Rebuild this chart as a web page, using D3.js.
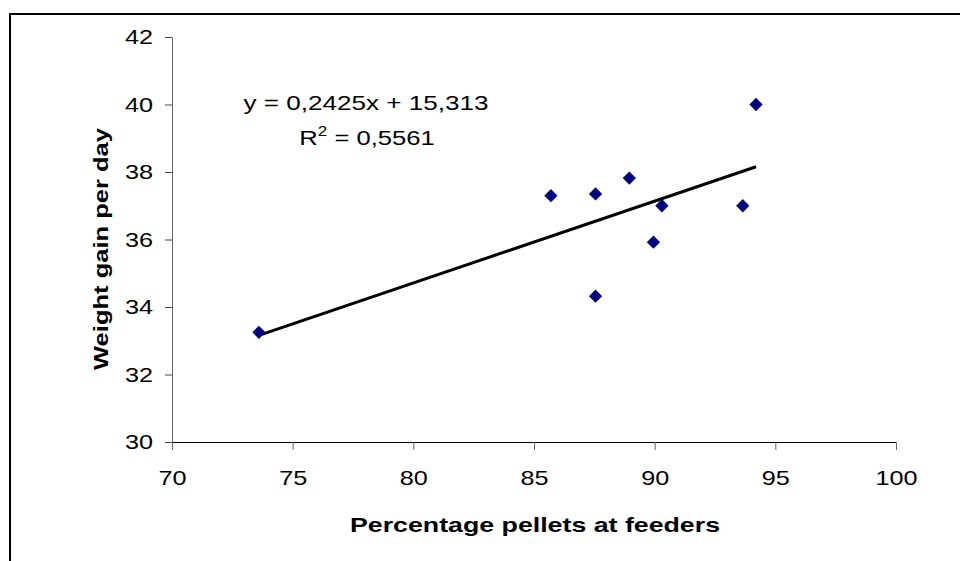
<!DOCTYPE html>
<html>
<head>
<meta charset="utf-8">
<script src="https://cdn.jsdelivr.net/npm/d3@7"></script>
<style>
  body { margin: 0; background: #fff; }
  svg { display: block; font-family: "Liberation Sans", Arial, sans-serif; }
</style>
</head>
<body>
<div id="chart"></div>
<script>
// values
const pellets = [73.6, 85.7, 87.55, 88.95, 90.3, 89.95, 87.55, 93.65, 94.2];
const gain = [33.25, 37.3, 37.35, 37.82, 37.0, 35.92, 34.32, 37.0, 40.0];
const xTicks = [70, 75, 80, 85, 90, 95, 100];
const yTicks = [30, 32, 34, 36, 38, 40, 42];
const slope = 0.2425, intercept = 15.313;
const equationLabel = "y = 0,2425x + 15,313";
const r2Label = "0,5561";

const width = 960, height = 561;
const margin = { top: 37, right: 64, bottom: 119, left: 172 };

const svg = d3.select("#chart").append("svg")
  .attr("width", width)
  .attr("height", height);

// the old excel look: glyphs drawn a bit wider than the font
function widen(sel, k) {
  sel.each(function() {
    const len = this.getComputedTextLength();
    d3.select(this).attr("textLength", len * k).attr("lengthAdjust", "spacingAndGlyphs");
  });
}

// outer chart frame (only left and top edges visible)
svg.append("rect")
  .attr("x", 10).attr("y", 14)
  .attr("width", 1000).attr("height", 600)
  .style("fill", "none")
  .style("stroke", "#000")
  .style("stroke-width", "2px");

const x = d3.scaleLinear().domain([70, 100]).range([margin.left, width - margin.right]);
const y = d3.scaleLinear().domain([30, 42]).range([height - margin.bottom, margin.top]);

const xAxis = svg.append("g")
  .attr("transform", `translate(0,${y(30)})`)
  .call(d3.axisBottom(x).tickValues(xTicks).tickSize(8).tickPadding(20).tickSizeOuter(0));
xAxis.select(".domain").style("stroke", "#000");
xAxis.selectAll(".tick line").style("stroke", "#666");
xAxis.selectAll("text").style("font-size", "21px").style("fill", "#000")
  .attr("dy", "0.71em")
  .call(widen, 1.2);

const yAxis = svg.append("g")
  .attr("transform", `translate(${x(70)},0)`)
  .call(d3.axisLeft(y).tickValues(yTicks).tickSize(7).tickPadding(12).tickSizeOuter(0));
yAxis.select(".domain").style("stroke", "#666");
yAxis.selectAll(".tick line").style("stroke", "#444");
yAxis.selectAll("text").style("font-size", "21px").style("fill", "#000")
  .call(widen, 1.2);

// trend line over the span of the data
const xExt = d3.extent(pellets);
svg.append("line")
  .attr("x1", x(xExt[0])).attr("y1", y(slope * xExt[0] + intercept))
  .attr("x2", x(xExt[1])).attr("y2", y(slope * xExt[1] + intercept))
  .style("stroke", "#000")
  .style("stroke-width", "3px");

// diamond markers
svg.selectAll(".pt")
  .data(pellets.map((p, i) => [p, gain[i]]))
  .enter()
  .append("path")
  .attr("class", "pt")
  .attr("d", d3.symbol().type(d3.symbolSquare).size(88))
  .attr("transform", d => `translate(${x(d[0])},${y(d[1])}) rotate(45)`)
  .style("fill", "#000080");

// regression equation
svg.append("text")
  .attr("x", 366).attr("y", 110)
  .attr("text-anchor", "middle")
  .attr("textLength", 245)
  .attr("lengthAdjust", "spacingAndGlyphs")
  .style("font-size", "21px")
  .text(equationLabel);

const r2 = svg.append("g")
  .attr("transform", "translate(367,145) scale(1.22,1)")
  .append("text")
  .attr("text-anchor", "middle")
  .style("font-size", "21px");
r2.append("tspan").text("R");
r2.append("tspan").attr("dy", -9).style("font-size", "14px").text("2");
r2.append("tspan").attr("dy", 9).text(" = " + r2Label);

// axis titles
svg.append("text")
  .attr("x", 535).attr("y", 532)
  .attr("text-anchor", "middle")
  .attr("textLength", 370)
  .attr("lengthAdjust", "spacingAndGlyphs")
  .style("font-size", "21px")
  .style("font-weight", "bold")
  .text("Percentage pellets at feeders");

svg.append("text")
  .attr("transform", "translate(108,249) rotate(-90)")
  .attr("text-anchor", "middle")
  .attr("textLength", 242)
  .attr("lengthAdjust", "spacingAndGlyphs")
  .style("font-size", "21px")
  .style("font-weight", "bold")
  .text("Weight gain per day");
</script>
</body>
</html>
